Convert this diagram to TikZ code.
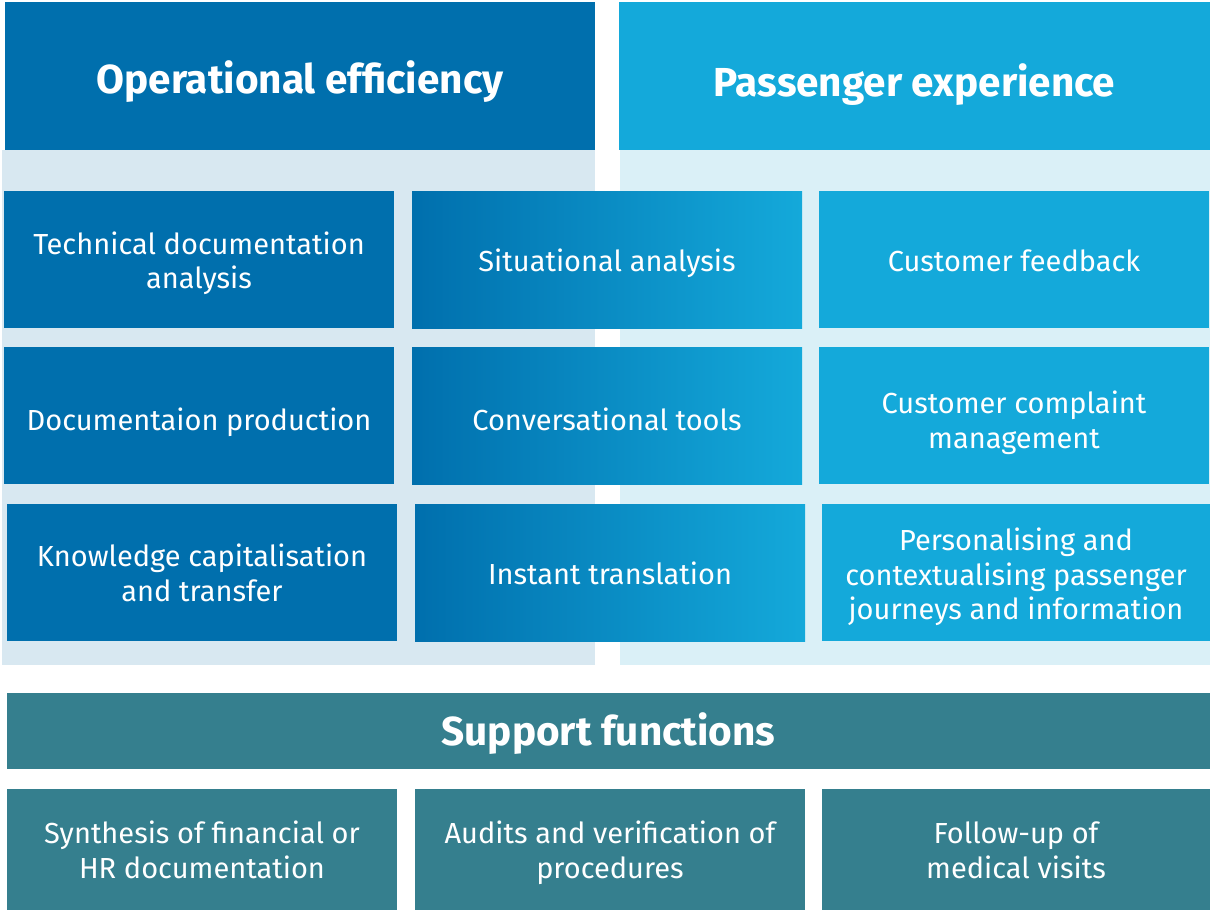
\documentclass[tikz,border=0pt]{standalone}
\usepackage{fontspec}
\setmainfont{Fira Sans}
% centred block of lines, lowered by #1 while keeping its size
\newcommand\celllines[2]{\raisebox{-#1}[\height][\depth]{\begin{tabular}{@{}c@{}}#2\end{tabular}}}
\begin{document}
\definecolor{opblue}{HTML}{006FAD}
\definecolor{paxblue}{HTML}{14A9DA}
\definecolor{oppanel}{HTML}{D8E8F1}
\definecolor{paxpanel}{HTML}{DAF0F7}
\definecolor{supteal}{HTML}{357F8E}
\begin{tikzpicture}[x=1pt,y=-1pt,
  box/.style={rectangle, anchor=north west, inner sep=0pt, outer sep=0pt,
    draw=none, text=white, align=center, font=\fontsize{29}{34.5}\selectfont},
  cell/.style={box, minimum width=390pt, minimum height=137pt},
  opcell/.style={cell, fill=opblue},
  paxcell/.style={cell, fill=paxblue},
  midcell/.style={cell, left color=opblue, right color=paxblue},
  supcell/.style={box, minimum width=390pt, minimum height=121pt, fill=supteal},
  head/.style={box, text depth=0pt, font=\fontsize{40.5}{48}\selectfont\bfseries}
]
\useasboundingbox (0,0) rectangle (1210,910);

% column backgrounds
\fill[oppanel] (2,150) rectangle (595,665);
\fill[paxpanel] (620,150) rectangle (1210,665);

% column headers
\node[head, fill=opblue, minimum width=590pt, minimum height=148pt] (hop) at (5,2) {\raisebox{-3pt}{Operational efficiency}};
\node[head, fill=paxblue, minimum width=591pt, minimum height=148pt] (hpax) at (619,2) {\raisebox{-8pt}{Passenger experience}};

% row 1
\node[opcell] (tda) at (4,191) {\celllines{5pt}{Technical documentation\\analysis}};
\node[midcell] (sit) at (412,191) {\celllines{5pt}{Situational analysis}};
\node[paxcell] (cfb) at (819,191) {\celllines{5pt}{Customer feedback}};

% row 2
\node[opcell] (dpr) at (4,347) {\celllines{8pt}{Documentaion production}};
\node[midcell] (cvt) at (412,347) {\celllines{8pt}{Conversational tools}};
\node[paxcell] (ccm) at (819,347) {\celllines{8.5pt}{Customer complaint\\management}};

% row 3
\node[opcell] (kct) at (7,504) {\celllines{4.5pt}{Knowledge capitalisation\\and transfer}};
\node[midcell] (itr) at (415,504) {\celllines{5pt}{Instant translation}};
\node[paxcell, minimum width=388pt] (pcj) at (822,504) {\celllines{6pt}{Personalising and\\contextualising passenger\\journeys and information}};

% support functions
\node[head, fill=supteal, minimum width=1203pt, minimum height=76pt] (hsup) at (7,693) {\raisebox{2pt}[\height][\depth]{Support functions}};
\node[supcell] (syn) at (7,789) {\celllines{4.5pt}{Synthesis of financial or\\HR documentation}};
\node[supcell] (aud) at (415,789) {\celllines{4.5pt}{Audits and verification of\\procedures}};
\node[supcell, minimum width=388pt] (med) at (822,789) {\celllines{4.5pt}{Follow-up of\\medical visits}};
\end{tikzpicture}
\end{document}
